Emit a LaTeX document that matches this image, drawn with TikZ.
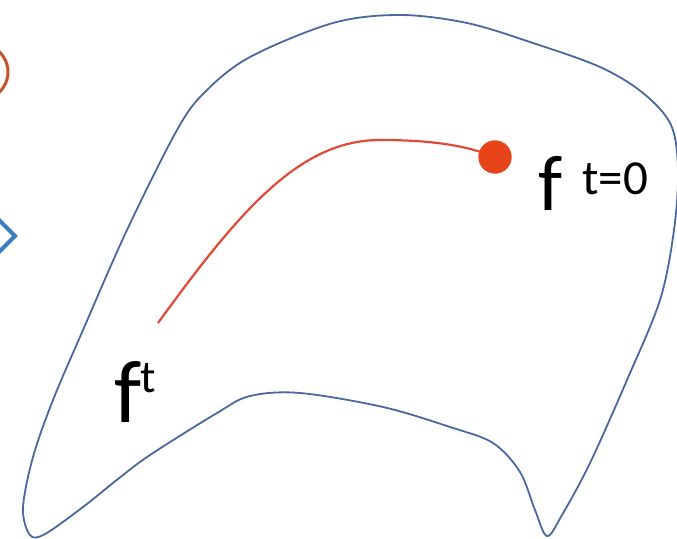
\documentclass[tikz,border=0pt]{standalone}
\usepackage{fontspec}
\setmainfont{Carlito}
\definecolor{blobblue}{HTML}{4A68A0}
\definecolor{pathred}{HTML}{E04A36}
\definecolor{dotred}{HTML}{E8441A}
\definecolor{arcorange}{HTML}{C0552E}
\definecolor{diablue}{HTML}{3A80C0}
\tikzset{
  blob/.style={draw=blobblue, line width=1.8pt},
  trajectory/.style={draw=pathred, line width=2.2pt},
  label/.style={inner sep=0pt, anchor=base west, text=black},
}
\begin{document}
\begin{tikzpicture}[x=1pt,y=-1pt]
\useasboundingbox (0,0) rectangle (677,538);
\fill[white] (0,0) rectangle (677,538);
\clip (0,0) rectangle (677,538);
% clipped partial shapes at the left edge
\draw[arcorange, line width=3pt] (-20,72) circle (28);
\draw[diablue, line width=4pt, line join=miter] (-3,218) -- (15,236) -- (-3,254) -- (-21,236) -- cycle;
% manifold outline
\draw[blob] plot[smooth cycle, tension=0.55] coordinates {
  (30,535) (23,508) (33,457) (53,400) (83,330) (127,230) (177,130)
  (205,92) (250,57) (333,23) (400,15) (467,23) (533,43) (600,67)
  (643,93) (671,125) (678,170) (674,230) (660,300) (627,380)
  (590,463) (562,515) (547,536) (535,510) (520,472) (493,443)
  (450,427) (383,407) (300,393) (250,396) (217,413) (150,455)
  (118,479) (83,507) (45,534)
};
% trajectory
\coordinate (start) at (158,323);
\node[circle, fill=dotred, minimum size=33pt, inner sep=0pt] (dot) at (495,157) {};
\draw[trajectory] (start) .. controls (240,210) and (300,140) .. (380,140)
  .. controls (430,140) and (465,145) .. (dot.center);
\node[circle, fill=dotred, minimum size=33pt, inner sep=0pt] at (dot) {};
% labels
\node[label, font=\fontsize{79}{79}\selectfont] (f0) at (538,210) {f};
\node[label, font=\fontsize{49}{49}\selectfont] (t0) at (582,194) {t=0};
\node[label, font=\fontsize{89}{89}\selectfont] (ft) at (114,422) {f};
\node[label, font=\fontsize{46}{46}\selectfont] (tt) at (140,392) {t};
\end{tikzpicture}
\end{document}
